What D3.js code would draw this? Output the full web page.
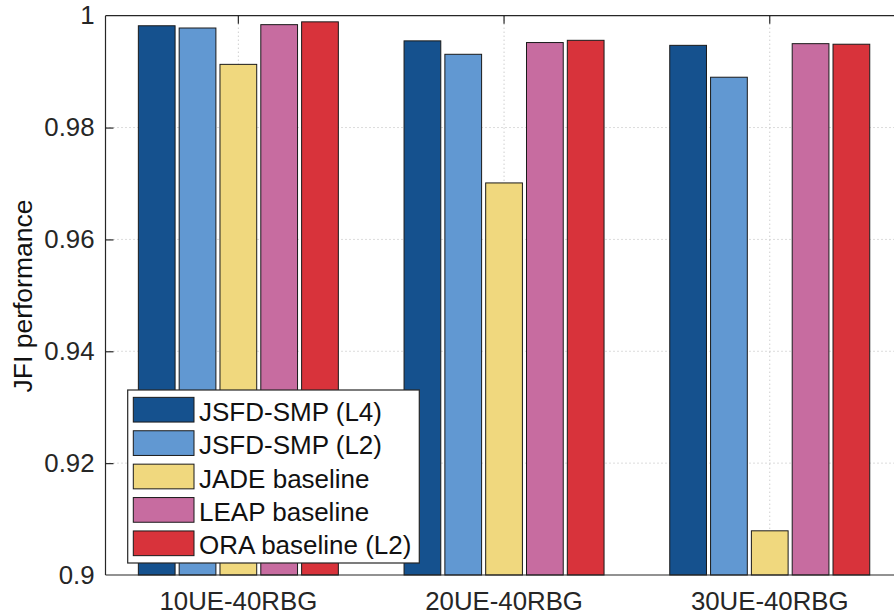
<!DOCTYPE html>
<html>
<head>
<meta charset="utf-8">
<script src="https://cdn.jsdelivr.net/npm/d3@7"></script>
<style>
  html, body { margin: 0; padding: 0; background: #fff; }
  svg { display: block; font-family: "Liberation Sans", Arial, Helvetica, sans-serif; }
</style>
</head>
<body>
<svg id="chart" width="894" height="615"></svg>
<script>
const categories = ["10UE-40RBG", "20UE-40RBG", "30UE-40RBG"];
const seriesNames = ["JSFD-SMP (L4)", "JSFD-SMP (L2)", "JADE baseline", "LEAP baseline", "ORA baseline (L2)"];
const seriesColors = ["#15518E", "#6198D2", "#F0D87E", "#C76CA0", "#D8333B"];
const jsfdL4 = [0.9982, 0.9955, 0.9947];
const jsfdL2 = [0.9978, 0.9931, 0.9890];
const jade   = [0.9913, 0.9701, 0.9079];
const leap   = [0.9984, 0.9952, 0.9950];
const ora    = [0.9989, 0.9956, 0.9949];
const seriesValues = [jsfdL4, jsfdL2, jade, leap, ora];
const yTickValues = [0.9, 0.92, 0.94, 0.96, 0.98, 1];
const yTickLabels = ["0.9", "0.92", "0.94", "0.96", "0.98", "1"];
const yLabel = "JFI performance";

const svg = d3.select("#chart");
const mLeft = 105.5, mTop = 15.7, mBottom = 575;
const step = 265.7;

const x = d3.scaleBand().domain(categories).range([mLeft, mLeft + 3 * step]).padding(0);
const xs = d3.scaleBand().domain(seriesNames).range([-100, 100]).paddingInner(0.1);
const y = d3.scaleLinear().domain([0.9, 1]).range([mBottom, mTop]);
const color = d3.scaleOrdinal().domain(seriesNames).range(seriesColors);

const axisColor = "#262626";
const fs = 25.8;

// grid
const grid = svg.append("g");
grid.selectAll("line.hg").data(yTickValues.filter(v => v > 0.9 && v < 1)).join("line")
  .attr("x1", mLeft).attr("x2", mLeft + 3 * step)
  .attr("y1", d => y(d)).attr("y2", d => y(d))
  .attr("stroke", "#b8b8b8").attr("stroke-width", 1).attr("stroke-dasharray", "1,3");
grid.selectAll("line.vg").data(categories).join("line")
  .attr("x1", d => x(d) + x.bandwidth() / 2).attr("x2", d => x(d) + x.bandwidth() / 2)
  .attr("y1", mTop).attr("y2", mBottom)
  .attr("stroke", "#b8b8b8").attr("stroke-width", 1).attr("stroke-dasharray", "1,3");

// bars
const rows = [];
seriesNames.forEach((s, si) => categories.forEach((c, ci) => rows.push({s, c, v: seriesValues[si][ci]})));
svg.append("g").selectAll("rect").data(rows).join("rect")
  .attr("x", d => x(d.c) + x.bandwidth() / 2 + xs(d.s))
  .attr("width", xs.bandwidth())
  .attr("y", d => y(d.v))
  .attr("height", d => y(0.9) - y(d.v))
  .attr("fill", d => color(d.s))
  .attr("stroke", "#1a1a1a").attr("stroke-width", 1);

// axes
const yAxis = d3.axisLeft(y).tickValues(yTickValues).tickFormat((d, i) => yTickLabels[i]).tickSize(-8).tickPadding(11);
const gy = svg.append("g").attr("transform", `translate(${mLeft},0)`).call(yAxis);
const xAxis = d3.axisBottom(x).tickSize(0).tickPadding(16.7);
const gx = svg.append("g").attr("transform", `translate(0,${mBottom})`).call(xAxis);
const xTop = d3.axisTop(x).tickSize(-8).tickFormat("");
const gt = svg.append("g").attr("transform", `translate(0,${mTop})`).call(xTop);

[gy, gx, gt].forEach(g => {
  g.select(".domain").attr("stroke", axisColor).attr("stroke-width", 1.2);
  g.selectAll(".tick line").attr("stroke", axisColor).attr("stroke-width", 1.2);
  g.selectAll("text").attr("fill", axisColor).attr("font-size", fs)
    .attr("font-family", "'Liberation Sans', Arial, sans-serif");
});
gx.select(".domain").attr("d", `M${mLeft},0H${mLeft + 3 * step}`);
gt.select(".domain").attr("d", `M${mLeft},0H${mLeft + 3 * step}`);
gy.select(".domain").attr("d", `M0,${mBottom}V${mTop}`);
gy.selectAll(".tick").filter(d => d === 0.9 || d === 1).select("line").remove();

// y label
svg.append("text")
  .attr("transform", `translate(31.7,296) rotate(-90)`)
  .attr("text-anchor", "middle")
  .attr("font-size", 26.5).attr("fill", "#111")
  .text(yLabel);

// legend
const lg = svg.append("g");
lg.append("rect").attr("x", 127.7).attr("y", 390).attr("width", 291.6).attr("height", 173)
  .attr("fill", "#fff").attr("stroke", axisColor).attr("stroke-width", 1.2);
const item = lg.selectAll("g.item").data(seriesNames).join("g")
  .attr("transform", (d, i) => `translate(0,${409.7 + i * 33.4})`);
item.append("rect").attr("x", 133.3).attr("y", -12.35).attr("width", 60.7).attr("height", 24.7)
  .attr("fill", d => color(d)).attr("stroke", "#1a1a1a").attr("stroke-width", 1);
item.append("text").attr("x", 199).attr("y", 11).attr("font-size", 26).attr("fill", "#111")
  .text(d => d);
</script>
</body>
</html>
